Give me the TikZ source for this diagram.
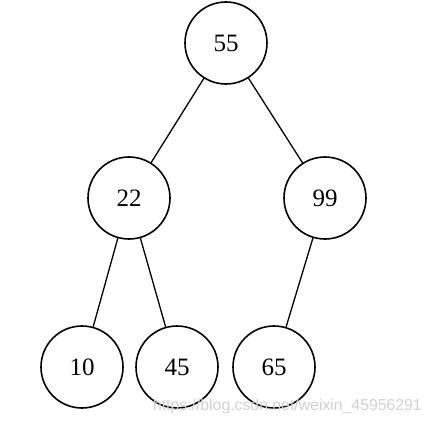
\documentclass[tikz,border=0pt]{standalone}
\usepackage{fontspec}
\setmainfont{Liberation Serif}
\newfontfamily\wmfont{Liberation Sans}
\begin{document}
\begin{tikzpicture}[x=1pt,y=-1pt,
  tnode/.style={circle,draw=black,line width=1.6pt,minimum size=82pt,inner sep=0pt,font=\fontsize{25}{28}\selectfont},
  edge/.style={draw=black,line width=1.3pt}]
\fill[white] (0,0) rectangle (431,422);
\useasboundingbox (0,0) rectangle (431,422);
\node[tnode] (n55) at (226,43) {55};
\node[tnode] (n22) at (129,198) {22};
\node[tnode] (n99) at (325,198) {99};
\node[tnode] (n10) at (82,367) {10};
\node[tnode] (n45) at (177,367) {45};
\node[tnode] (n65) at (274,367) {65};
\draw[edge] (n55) -- (n22);
\draw[edge] (n55) -- (n99);
\draw[edge] (n22) -- (n10);
\draw[edge] (n22) -- (n45);
\draw[edge] (n99) -- (n65);
\node[anchor=base east,text=black!18,font=\wmfont\fontsize{15.8}{17}\selectfont,inner sep=0pt] (wm) at (422,410) {https://blog.csdn.net/weixin\_45956291};
\end{tikzpicture}
\end{document}
